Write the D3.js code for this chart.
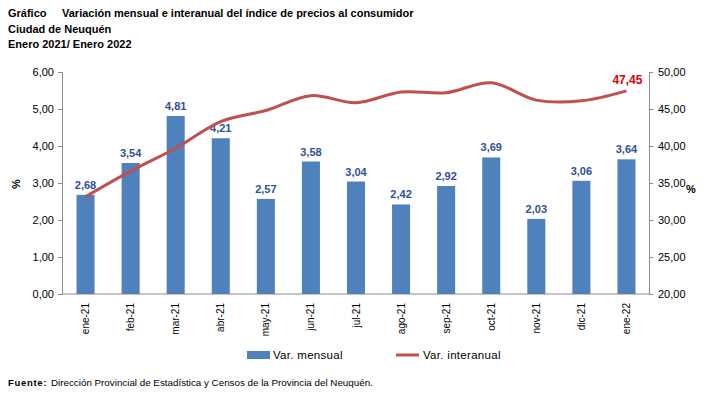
<!DOCTYPE html>
<html><head><meta charset="utf-8">
<script src="https://cdn.jsdelivr.net/npm/d3@7"></script>
<style>body{margin:0;background:#fff}svg{display:block;font-family:Arial,"Liberation Sans",sans-serif}</style>
</head><body><svg id="c" width="724" height="396"></svg>
<script>
const categories = ["ene-21","feb-21","mar-21","abr-21","may-21","jun-21","jul-21","ago-21","sep-21","oct-21","nov-21","dic-21","ene-22"];
const mensual = [2.68,3.54,4.81,4.21,2.57,3.58,3.04,2.42,2.92,3.69,2.03,3.06,3.64];
const interanual = [33.15,36.6,39.7,43.3,44.8,46.8,45.85,47.3,47.2,48.55,46.2,46.1,47.45];
const leftTicks = [0,1,2,3,4,5,6];
const rightTicks = [20,25,30,35,40,45,50];
const fmt = v => d3.format(".2f")(v).replace(".", ",");

const svg = d3.select("#c");
const L = 62, R = 649, T = 72, B = 294;
const x = d3.scaleBand().domain(categories).range([L+1, R]).paddingInner(0.6).paddingOuter(0.3);
const yL = d3.scaleLinear().domain([0,6]).range([B,T]);
const yR = d3.scaleLinear().domain([20,50]).range([B,T]);

// titles
const tt = svg.append("g").attr("font-weight","bold").attr("font-size",11).attr("fill","#000");
tt.append("text").attr("x",8).attr("y",17).text("Gráfico");
tt.append("text").attr("x",62).attr("y",17).text("Variación mensual e interanual del índice de precios al consumidor");
tt.append("text").attr("x",8).attr("y",33).text("Ciudad de Neuquén");
tt.append("text").attr("x",8).attr("y",48).text("Enero 2021/ Enero 2022");

// axes
const axL = svg.append("g").attr("transform",`translate(${L},0)`)
  .call(d3.axisLeft(yL).tickValues(leftTicks).tickFormat(fmt).tickSize(4).tickPadding(4));
const axR = svg.append("g").attr("transform",`translate(${R},0)`)
  .call(d3.axisRight(yR).tickValues(rightTicks).tickFormat(fmt).tickSize(4).tickPadding(5));
const axX = svg.append("g").attr("transform",`translate(0,${B})`)
  .call(d3.axisBottom(x).tickSize(0).tickPadding(0));
axX.select(".domain").attr("d",`M${L},0H${R}`);
[axL,axR,axX].forEach(a=>{
  a.selectAll(".domain,.tick line").attr("stroke","#8c8c8c");
  a.selectAll("text").attr("font-size",11).attr("fill","#000").attr("font-family","Arial,'Liberation Sans',sans-serif");
});
axX.selectAll(".tick text").attr("font-size",10)
  .attr("transform","rotate(-90)").attr("text-anchor","end")
  .attr("x",-9).attr("y",0).attr("dy","0.35em");

svg.append("text").attr("transform","translate(20,184) rotate(-90)").attr("text-anchor","middle")
  .attr("font-size",11).attr("font-weight","bold").text("%");
svg.append("text").attr("x",686).attr("y",193).attr("font-size",11).attr("font-weight","bold").text("%");

// bars
svg.append("g").selectAll("rect").data(mensual).enter().append("rect")
  .attr("x",(d,i)=>x(categories[i])).attr("width",x.bandwidth())
  .attr("y",d=>yL(d)).attr("height",d=>B-yL(d)).attr("fill","#4F81BD");
svg.append("g").selectAll("text").data(mensual).enter().append("text")
  .attr("x",(d,i)=>x(categories[i])+x.bandwidth()/2).attr("y",d=>yL(d)-6)
  .attr("text-anchor","middle").attr("font-size",11).attr("font-weight","bold").attr("fill","#2F4F9A")
  .text(fmt);

// line
const line = d3.line().x((d,i)=>x(categories[i])+x.bandwidth()/2).y(d=>yR(d)).curve(d3.curveCatmullRom.alpha(0.5));
svg.append("path").datum(interanual).attr("d",line).attr("fill","none").attr("stroke","#C0504D").attr("stroke-width",3);
const last = interanual.length-1;
svg.append("text").attr("x",x(categories[last])+x.bandwidth()/2+1).attr("y",yR(interanual[last])-7)
  .attr("text-anchor","middle").attr("font-size",12).attr("font-weight","bold").attr("fill","#E00000").text(fmt(interanual[last]));

// legend
const lg = svg.append("g").attr("font-family","Arial,'Liberation Sans',sans-serif").attr("font-size",11.5).attr("letter-spacing",0.3);
lg.append("rect").attr("x",247).attr("y",351).attr("width",23).attr("height",8).attr("fill","#4F81BD");
lg.append("text").attr("x",273).attr("y",359).text("Var. mensual");
lg.append("line").attr("x1",396).attr("x2",419).attr("y1",355).attr("y2",355).attr("stroke","#C0504D").attr("stroke-width",3);
lg.append("text").attr("x",423).attr("y",359).text("Var. interanual");

// footer
svg.append("text").attr("x",8).attr("y",386).attr("font-size",9.5).attr("font-weight","bold").attr("letter-spacing",0.7).text("Fuente:");
svg.append("text").attr("x",51).attr("y",386).attr("font-size",9.8).text("Dirección Provincial de Estadística y Censos de la Provincia del Neuquén.");
</script></body></html>
